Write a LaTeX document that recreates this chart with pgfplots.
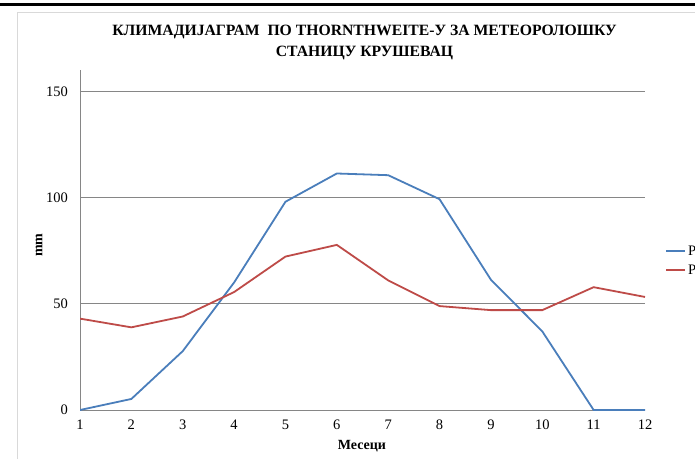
\documentclass[border=0pt]{standalone}
\usepackage{fontspec}
\setmainfont{Liberation Serif}
\usepackage{pgfplots}
\pgfplotsset{compat=1.18}
\definecolor{pblue}{RGB}{74,126,187}
\definecolor{pred}{RGB}{190,75,72}
\definecolor{gridc}{RGB}{134,134,134}
\definecolor{framec}{RGB}{217,217,217}
\begin{document}
\begin{tikzpicture}[x=1pt,y=1pt]
\useasboundingbox (0,0) rectangle (695,459);
\clip (0,0) rectangle (695,459);
\fill[white] (0,0) rectangle (695,459);
\fill[black] (0,453.3) rectangle (695,455.7);
\draw[framec, line width=1.5pt] (17.5,0) -- (17.5,446.3) -- (696,446.3);
\node[font=\bfseries\fontsize{15.7}{18}\selectfont, anchor=base, inner sep=0pt] at (364.5,423.3) {КЛИМАДИЈАГРАМ\ \ ПО THORNTHWEITE-У ЗА МЕТЕОРОЛОШКУ};
\node[font=\bfseries\fontsize{15.7}{18}\selectfont, anchor=base, inner sep=0pt] at (364.5,402.7) {СТАНИЦУ КРУШЕВАЦ};
\begin{axis}[
  at={(80pt,49pt)}, anchor=south west,
  scale only axis, width=565pt, height=340pt,
  xmin=1, xmax=12, ymin=0, ymax=160,
  xtick={1,...,12}, ytick={0,50,100,150},
  axis x line*=bottom, axis y line*=left,
  axis line style={gridc, line width=0.8pt, -},
  ymajorgrids, grid style={gridc, line width=0.8pt},
  major tick length=0pt,
  tick label style={font=\fontsize{14.5}{16}\selectfont},
  /pgf/number format/assume math mode=true,
  yticklabel style={anchor=east, inner sep=0pt, xshift=-12pt},
  xticklabel style={anchor=north, inner sep=0pt, yshift=-9.5pt},
  xlabel={Месеци},
  xlabel style={at={(axis description cs:0.499,0)}, anchor=base, yshift=-39pt, inner sep=0pt, font=\bfseries\fontsize{14}{16}\selectfont},
  ylabel={mm},
  ylabel style={at={(axis description cs:-0.0726,0.485)}, anchor=center, inner sep=0pt, font=\bfseries\fontsize{14}{16}\selectfont},
  legend style={at={(axis description cs:1.0354,0.4385)}, anchor=west, draw=none, fill=none, inner sep=0pt, font=\fontsize{14.5}{16}\selectfont, nodes={inner sep=0pt}, row sep=8pt},
  legend cell align=left,
  legend image code/.code={\draw[#1, line width=2pt] (0pt,0pt) -- (19pt,0pt); \path (21pt,0pt);},
]
\addplot[pblue, line width=1.8pt] coordinates {(1,0)(2,5.2)(3,27.7)(4,60)(5,98)(6,111.3)(7,110.5)(8,99.2)(9,61.3)(10,37)(11,0)(12,0)};
\addlegendentry{PE}
\addplot[pred, line width=1.8pt] coordinates {(1,43)(2,38.9)(3,44)(4,55.5)(5,72.2)(6,77.7)(7,61)(8,48.9)(9,47)(10,47)(11,57.8)(12,53.2)};
\addlegendentry{P}
\end{axis}
\end{tikzpicture}
\end{document}
